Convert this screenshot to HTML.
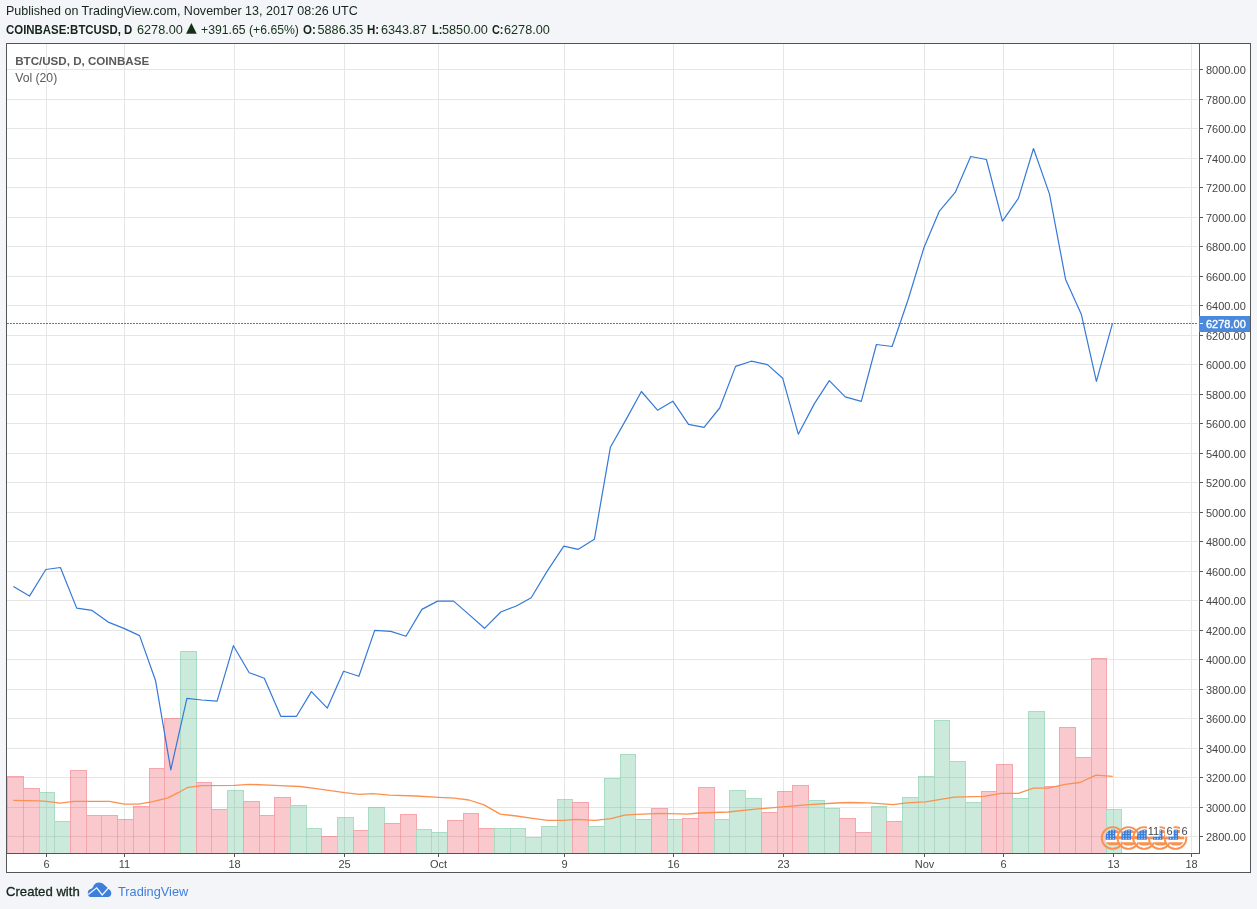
<!DOCTYPE html>
<html lang="en"><head><meta charset="utf-8"><title>BTC/USD chart - TradingView</title>
<style>
html,body{margin:0;padding:0}
body{width:1257px;height:909px;overflow:hidden;background:#f3f5f9;position:relative;font-family:"Liberation Sans",sans-serif;color:#14241a}
.chart{position:absolute;left:0;top:0;display:block}
.ax{font-family:"Liberation Sans",sans-serif;font-size:11px;fill:#454545}
.lg{font-family:"Liberation Sans",sans-serif;font-size:12px;fill:#5a5a5a}
.t{position:absolute;white-space:nowrap;font-size:12.2px;line-height:14px;transform-origin:0 50%}
.b{font-weight:bold}

.g{color:#143217}
.tri{font-family:"DejaVu Sans","Liberation Sans",sans-serif;line-height:14px}
.blue{color:#3f7fdc}
.f{-webkit-text-stroke:.3px #14241a}
</style></head><body>
<svg class="chart" width="1257" height="909" viewBox="0 0 1257 909" shape-rendering="auto">
<rect x="6.5" y="43.5" width="1244" height="829" fill="#fff" stroke="#555" stroke-width="1"/>
<path d="M46.5 44V852M124.5 44V852M234.5 44V852M344.5 44V852M438.5 44V852M564.5 44V852M673.5 44V852M783.5 44V852M924.5 44V852M1003.5 44V852M1113.5 44V852M1191.5 44V852M7 69.5H1198M7 99.5H1198M7 128.5H1198M7 158.5H1198M7 187.5H1198M7 217.5H1198M7 246.5H1198M7 276.5H1198M7 305.5H1198M7 335.5H1198M7 364.5H1198M7 394.5H1198M7 423.5H1198M7 453.5H1198M7 482.5H1198M7 512.5H1198M7 541.5H1198M7 571.5H1198M7 600.5H1198M7 630.5H1198M7 659.5H1198M7 689.5H1198M7 718.5H1198M7 748.5H1198M7 777.5H1198M7 807.5H1198M7 836.5H1198" stroke="#e6e6e6" stroke-width="1" fill="none" shape-rendering="crispEdges"/>
<path d="M40 793h14v60h-14zM55 822h15v31h-15zM181 652h15v201h-15zM228 791h15v62h-15zM291 806h15v47h-15zM307 829h14v24h-14zM338 818h15v35h-15zM369 808h15v45h-15zM417 830h14v23h-14zM432 833h15v20h-15zM495 829h15v24h-15zM511 829h14v24h-14zM526 838h15v15h-15zM542 827h15v26h-15zM558 800h14v53h-14zM589 827h15v26h-15zM605 779h15v74h-15zM621 755h14v98h-14zM636 820h15v33h-15zM668 820h14v33h-14zM715 820h14v33h-14zM730 791h15v62h-15zM746 799h15v54h-15zM809 801h15v52h-15zM825 809h14v44h-14zM872 807h14v46h-14zM903 798h15v55h-15zM919 777h15v76h-15zM935 721h14v132h-14zM950 762h15v91h-15zM966 803h15v50h-15zM1013 799h15v54h-15zM1029 712h15v141h-15zM1107 810h14v43h-14z" fill="rgba(83,185,135,0.3)" shape-rendering="crispEdges"/>
<path d="M40 792h14v1h-14zM55 821h15v1h-15zM181 651h15v1h-15zM228 790h15v1h-15zM291 805h15v1h-15zM307 828h14v1h-14zM338 817h15v1h-15zM369 807h15v1h-15zM417 829h14v1h-14zM432 832h15v1h-15zM495 828h15v1h-15zM511 828h14v1h-14zM526 837h15v1h-15zM542 826h15v1h-15zM558 799h14v1h-14zM589 826h15v1h-15zM605 778h15v1h-15zM621 754h14v1h-14zM636 819h15v1h-15zM668 819h14v1h-14zM715 819h14v1h-14zM730 790h15v1h-15zM746 798h15v1h-15zM809 800h15v1h-15zM825 808h14v1h-14zM872 806h14v1h-14zM903 797h15v1h-15zM919 776h15v1h-15zM935 720h14v1h-14zM950 761h15v1h-15zM966 802h15v1h-15zM1013 798h15v1h-15zM1029 711h15v1h-15zM1107 809h14v1h-14zM39 792h1v61h-1zM54 792h1v29h-1zM54 821h1v32h-1zM180 651h1v202h-1zM196 651h1v131h-1zM227 790h1v63h-1zM243 790h1v11h-1zM290 805h1v48h-1zM306 805h1v23h-1zM306 828h1v25h-1zM321 828h1v8h-1zM337 817h1v36h-1zM353 817h1v13h-1zM368 807h1v46h-1zM384 807h1v16h-1zM416 829h1v24h-1zM431 829h1v3h-1zM431 832h1v21h-1zM494 828h1v25h-1zM510 828h1v25h-1zM525 828h1v9h-1zM525 837h1v16h-1zM541 826h1v27h-1zM557 799h1v54h-1zM572 799h1v3h-1zM588 826h1v27h-1zM604 778h1v75h-1zM620 754h1v99h-1zM635 754h1v65h-1zM635 819h1v34h-1zM667 819h1v34h-1zM714 819h1v34h-1zM729 790h1v63h-1zM745 790h1v8h-1zM745 798h1v55h-1zM761 798h1v14h-1zM808 800h1v53h-1zM824 800h1v8h-1zM824 808h1v45h-1zM839 808h1v10h-1zM871 806h1v47h-1zM886 806h1v15h-1zM902 797h1v56h-1zM918 776h1v77h-1zM934 720h1v133h-1zM949 720h1v41h-1zM949 761h1v92h-1zM965 761h1v41h-1zM965 802h1v51h-1zM1012 798h1v55h-1zM1028 711h1v142h-1zM1044 711h1v75h-1zM1106 809h1v44h-1zM1121 809h1v44h-1z" fill="rgba(83,185,135,0.5)" shape-rendering="crispEdges"/>
<path d="M8 777h15v76h-15zM24 789h15v64h-15zM71 771h15v82h-15zM87 816h14v37h-14zM102 816h15v37h-15zM118 820h15v33h-15zM134 807h15v46h-15zM150 769h14v84h-14zM165 719h15v134h-15zM197 783h14v70h-14zM212 810h15v43h-15zM244 802h15v51h-15zM260 816h14v37h-14zM275 798h15v55h-15zM322 837h15v16h-15zM354 831h14v22h-14zM385 824h15v29h-15zM401 815h15v38h-15zM448 821h15v32h-15zM464 814h14v39h-14zM479 829h15v24h-15zM573 803h15v50h-15zM652 809h15v44h-15zM683 819h15v34h-15zM699 788h15v65h-15zM762 813h15v40h-15zM778 792h14v61h-14zM793 786h15v67h-15zM840 819h15v34h-15zM856 833h15v20h-15zM887 822h15v31h-15zM982 792h14v61h-14zM997 765h15v88h-15zM1045 787h14v66h-14zM1060 728h15v125h-15zM1076 758h15v95h-15zM1092 659h14v194h-14z" fill="rgba(235,77,92,0.3)" shape-rendering="crispEdges"/>
<path d="M8 776h15v1h-15zM24 788h15v1h-15zM71 770h15v1h-15zM87 815h14v1h-14zM102 815h15v1h-15zM118 819h15v1h-15zM134 806h15v1h-15zM150 768h14v1h-14zM165 718h15v1h-15zM197 782h14v1h-14zM212 809h15v1h-15zM244 801h15v1h-15zM260 815h14v1h-14zM275 797h15v1h-15zM322 836h15v1h-15zM354 830h14v1h-14zM385 823h15v1h-15zM401 814h15v1h-15zM448 820h15v1h-15zM464 813h14v1h-14zM479 828h15v1h-15zM573 802h15v1h-15zM652 808h15v1h-15zM683 818h15v1h-15zM699 787h15v1h-15zM762 812h15v1h-15zM778 791h14v1h-14zM793 785h15v1h-15zM840 818h15v1h-15zM856 832h15v1h-15zM887 821h15v1h-15zM982 791h14v1h-14zM997 764h15v1h-15zM1045 786h14v1h-14zM1060 727h15v1h-15zM1076 757h15v1h-15zM1092 658h14v1h-14zM7 776h1v77h-1zM23 776h1v12h-1zM23 788h1v65h-1zM39 788h1v4h-1zM70 770h1v83h-1zM86 770h1v45h-1zM86 815h1v38h-1zM101 815h1v38h-1zM117 815h1v4h-1zM117 819h1v34h-1zM133 806h1v47h-1zM149 768h1v85h-1zM164 718h1v135h-1zM196 782h1v71h-1zM211 782h1v27h-1zM211 809h1v44h-1zM243 801h1v52h-1zM259 801h1v14h-1zM259 815h1v38h-1zM274 797h1v56h-1zM290 797h1v8h-1zM321 836h1v17h-1zM353 830h1v23h-1zM384 823h1v30h-1zM400 814h1v39h-1zM416 814h1v15h-1zM447 820h1v33h-1zM463 813h1v40h-1zM478 813h1v15h-1zM478 828h1v25h-1zM572 802h1v51h-1zM588 802h1v24h-1zM651 808h1v45h-1zM667 808h1v11h-1zM682 818h1v35h-1zM698 787h1v66h-1zM714 787h1v32h-1zM761 812h1v41h-1zM777 791h1v62h-1zM792 785h1v68h-1zM808 785h1v15h-1zM839 818h1v35h-1zM855 818h1v14h-1zM855 832h1v21h-1zM886 821h1v32h-1zM981 791h1v62h-1zM996 764h1v89h-1zM1012 764h1v34h-1zM1044 786h1v67h-1zM1059 727h1v126h-1zM1075 727h1v30h-1zM1075 757h1v96h-1zM1091 658h1v195h-1zM1106 658h1v151h-1z" fill="rgba(235,77,92,0.5)" shape-rendering="crispEdges"/>
<polyline points="13.2,800.4 38.7,800.9 46.6,801.4 60.0,803.2 73.8,801.4 109.5,801.4 124.5,804.2 138.7,804.2 152.7,801.7 168.0,797.8 178.2,792.7 187.1,787.7 201.1,785.6 234.2,785.4 249.5,784.3 280.0,785.6 300.0,786.5 316.2,788.7 344.6,792.7 359.5,794.4 373.0,793.6 389.3,795.2 416.3,796.0 438.5,797.3 454.2,798.2 469.0,800.0 484.0,804.9 500.2,814.1 516.4,816.0 532.6,818.4 547.5,820.3 563.7,820.3 575.9,819.3 594.8,820.3 611.0,818.7 624.6,815.2 636.2,814.4 660.6,813.3 687.6,814.1 698.4,813.0 728.2,812.0 755.2,809.2 782.3,806.8 809.3,804.6 836.4,803.0 849.9,802.5 868.8,802.8 893.2,804.6 906.7,802.8 925.6,801.9 954.3,797.1 983.8,796.4 1001.1,793.4 1018.4,793.4 1033.2,788.2 1048.0,788.2 1065.2,784.3 1080.0,782.5 1096.0,775.1 1112.8,776.4" fill="none" stroke="#fa9150" stroke-width="1.3" stroke-linejoin="round"/>
<polyline points="13.4,586.4 29.5,596.1 45.8,569.5 60.4,567.5 76.7,608.1 92.1,610.4 108.2,622.1 123.9,628.4 139.6,635.6 155.6,680.8 170.8,769.8 186.9,698.3 201.8,700.0 217.1,701.2 233.4,645.7 249.2,672.7 264.3,678.3 280.8,716.3 296.5,716.3 311.4,691.6 327.3,708.1 343.6,671.3 358.9,676.3 374.7,630.4 390.8,631.4 406.0,636.3 421.9,609.4 437.6,601.1 453.6,601.1 469.1,614.6 484.5,628.3 500.8,612.0 516.3,606.0 531.2,597.7 547.2,571.1 563.8,546.2 578.3,549.3 594.4,539.3 610.4,447.2 626.0,419.6 641.4,391.5 657.5,410.2 672.8,401.2 688.5,424.3 704.0,427.3 719.7,408.0 735.6,366.4 751.3,361.2 767.4,364.6 782.7,378.3 798.3,434.2 814.4,403.6 829.3,380.7 845.2,396.8 861.3,401.3 876.4,344.5 892.1,346.5 908.0,300.0 924.0,247.5 939.4,211.1 955.2,192.4 970.7,156.5 986.4,159.5 1002.4,221.2 1018.4,198.4 1033.5,148.5 1049.5,194.1 1065.6,279.4 1081.3,314.2 1096.4,381.3 1112.4,323.6" fill="none" stroke="#3579d8" stroke-width="1.2" stroke-linejoin="round"/>
<path d="M7 323.5H1197" stroke="#3b7dd8" stroke-width="1" stroke-dasharray="2 1" fill="none" shape-rendering="crispEdges"/>
<path d="M1199.5 44V854M6 853.5H1200" stroke="#555" stroke-width="1" fill="none" shape-rendering="crispEdges"/>
<path d="M1200 69.5H1203M1200 99.5H1203M1200 128.5H1203M1200 158.5H1203M1200 187.5H1203M1200 217.5H1203M1200 246.5H1203M1200 276.5H1203M1200 305.5H1203M1200 335.5H1203M1200 364.5H1203M1200 394.5H1203M1200 423.5H1203M1200 453.5H1203M1200 482.5H1203M1200 512.5H1203M1200 541.5H1203M1200 571.5H1203M1200 600.5H1203M1200 630.5H1203M1200 659.5H1203M1200 689.5H1203M1200 718.5H1203M1200 748.5H1203M1200 777.5H1203M1200 807.5H1203M1200 836.5H1203M46.5 854V857M124.5 854V857M234.5 854V857M344.5 854V857M438.5 854V857M564.5 854V857M673.5 854V857M783.5 854V857M924.5 854V857M1003.5 854V857M1113.5 854V857M1191.5 854V857" stroke="#555" stroke-width="1" fill="none" shape-rendering="crispEdges"/>
<defs><clipPath id="fc"><circle cx=".6" cy="0" r="8.4"/></clipPath><g id="flag"><g clip-path="url(#fc)"><rect x="-7" y="-10" width="17" height="20" fill="#fff"/><path d="M-7 -6.600H10M-7 -.300H10M-7 5.800H10" stroke="#fa9150" stroke-width="3.300"/><rect x="-7" y="-9" width="9.600" height="10.700" fill="#3b7dd8"/><path d="M-5 -8V1.700M-2.200 -8V1.700M.600 -8V1.700" stroke="#dbe7f8" stroke-width=".9" stroke-dasharray="1.4 1.200"/></g><circle cx="0" cy="0" r="10.900" fill="none" stroke="#fa9150" stroke-width="1.900"/></g></defs>
<use href="#flag" x="1112.7" y="838"/>
<use href="#flag" x="1128.4" y="838"/>
<use href="#flag" x="1144.1" y="838"/>
<use href="#flag" x="1159.8" y="838"/>
<use href="#flag" x="1175.5" y="838"/>
<rect x="1147.0" y="825.5" width="12.5" height="11" fill="#fff"/>
<text x="1153.5" y="835" class="ax" text-anchor="middle">11</text>
<rect x="1165.0" y="825.5" width="8.5" height="11" fill="#fff"/>
<text x="1169.5" y="835" class="ax" text-anchor="middle">6</text>
<rect x="1180.0" y="825.5" width="8.5" height="11" fill="#fff"/>
<text x="1184.5" y="835" class="ax" text-anchor="middle">6</text>
<text x="1206" y="73.5" class="ax">8000.00</text>
<text x="1206" y="103.5" class="ax">7800.00</text>
<text x="1206" y="132.5" class="ax">7600.00</text>
<text x="1206" y="162.5" class="ax">7400.00</text>
<text x="1206" y="191.5" class="ax">7200.00</text>
<text x="1206" y="221.5" class="ax">7000.00</text>
<text x="1206" y="250.5" class="ax">6800.00</text>
<text x="1206" y="280.5" class="ax">6600.00</text>
<text x="1206" y="309.5" class="ax">6400.00</text>
<text x="1206" y="339.5" class="ax">6200.00</text>
<text x="1206" y="368.5" class="ax">6000.00</text>
<text x="1206" y="398.5" class="ax">5800.00</text>
<text x="1206" y="427.5" class="ax">5600.00</text>
<text x="1206" y="457.5" class="ax">5400.00</text>
<text x="1206" y="486.5" class="ax">5200.00</text>
<text x="1206" y="516.5" class="ax">5000.00</text>
<text x="1206" y="545.5" class="ax">4800.00</text>
<text x="1206" y="575.5" class="ax">4600.00</text>
<text x="1206" y="604.5" class="ax">4400.00</text>
<text x="1206" y="634.5" class="ax">4200.00</text>
<text x="1206" y="663.5" class="ax">4000.00</text>
<text x="1206" y="693.5" class="ax">3800.00</text>
<text x="1206" y="722.5" class="ax">3600.00</text>
<text x="1206" y="752.5" class="ax">3400.00</text>
<text x="1206" y="781.5" class="ax">3200.00</text>
<text x="1206" y="811.5" class="ax">3000.00</text>
<text x="1206" y="840.5" class="ax">2800.00</text>
<rect x="1199" y="316" width="51" height="16" fill="#4a89dc"/>
<path d="M1200 323.5H1203" stroke="#fff" stroke-width="1" shape-rendering="crispEdges"/>
<text x="1206" y="328" class="ax" fill="#fff" style="fill:#fff;stroke:#fff;stroke-width:.35px">6278.00</text>
<text x="46.5" y="868" class="ax" text-anchor="middle">6</text>
<text x="124.5" y="868" class="ax" text-anchor="middle">11</text>
<text x="234.5" y="868" class="ax" text-anchor="middle">18</text>
<text x="344.5" y="868" class="ax" text-anchor="middle">25</text>
<text x="438.5" y="868" class="ax" text-anchor="middle">Oct</text>
<text x="564.5" y="868" class="ax" text-anchor="middle">9</text>
<text x="673.5" y="868" class="ax" text-anchor="middle">16</text>
<text x="783.5" y="868" class="ax" text-anchor="middle">23</text>
<text x="924.5" y="868" class="ax" text-anchor="middle">Nov</text>
<text x="1003.5" y="868" class="ax" text-anchor="middle">6</text>
<text x="1113.5" y="868" class="ax" text-anchor="middle">13</text>
<text x="1191.5" y="868" class="ax" text-anchor="middle">18</text>
<path d="M1250.5 43V873" stroke="#555" stroke-width="1" shape-rendering="crispEdges"/>
<text x="15.2" y="64.7" class="lg" style="font-weight:bold;font-size:11.6px">BTC/USD, D, COINBASE</text>
<text x="15.2" y="82" class="lg" style="font-size:12.2px">Vol (20)</text>
<path d="M90.700 897.100C88.900 897.100 87.800 895 87.800 892.900C87.800 890.600 89.300 889.200 91.300 888.800C91.900 888.700 92.400 888.200 92.700 887.500C93.800 884.600 96 882.600 98.900 882.600C101 882.600 102.800 883.400 104.200 884.800L107.600 887.700C107.900 888.500 108.300 889 108.900 889.300C110.300 890 111.300 891.500 111.300 893.200C111.300 895.500 109.800 897.100 107.800 897.100Z" fill="#3f7fdc"/><path d="M88.200 894.400L96.700 887.800L102.200 895L109.600 886.800" fill="none" stroke="#f3f5f9" stroke-width="1.3"/>
</svg>
<div class="t" id="l1" style="left:5.60px;top:4.2px;font-size:12.8px;transform:scaleX(0.9780)">Published on TradingView.com, November 13, 2017 08:26 UTC</div>
<div class="t b" id="l2a" style="left:6.20px;top:22.9px;font-size:12.8px;transform:scaleX(0.8930)">COINBASE:BTCUSD, D</div>
<div class="t g" id="l2b" style="left:137.00px;top:22.9px;font-size:12.7px;transform:scaleX(1.0000)">6278.00</div>
<div class="t g tri" id="l2c" style="left:186.00px;top:20.3px;font-size:14.0px;transform:scaleX(1.0000)">&#9650;</div>
<div class="t g" id="l2d" style="left:200.60px;top:22.9px;font-size:12.8px;transform:scaleX(0.9560)">+391.65 (+6.65%)</div>
<div class="t b" id="l2e" style="left:303.30px;top:22.9px;font-size:12.8px;transform:scaleX(0.9000)">O:</div>
<div class="t g" id="l2f" style="left:317.50px;top:22.9px;font-size:12.7px;transform:scaleX(1.0000)">5886.35</div>
<div class="t b" id="l2g" style="left:367.20px;top:22.9px;font-size:12.8px;transform:scaleX(0.9000)">H:</div>
<div class="t g" id="l2h" style="left:380.90px;top:22.9px;font-size:12.7px;transform:scaleX(1.0000)">6343.87</div>
<div class="t b" id="l2i" style="left:431.60px;top:22.9px;font-size:12.8px;transform:scaleX(0.8500)">L:</div>
<div class="t g" id="l2j" style="left:442.00px;top:22.9px;font-size:12.7px;transform:scaleX(1.0000)">5850.00</div>
<div class="t b" id="l2k" style="left:492.40px;top:22.9px;font-size:12.8px;transform:scaleX(0.8500)">C:</div>
<div class="t g" id="l2l" style="left:504.00px;top:22.9px;font-size:12.7px;transform:scaleX(1.0000)">6278.00</div>
<div class="t f" id="f1" style="left:6.20px;top:885.0px;font-size:13.2px;transform:scaleX(0.9960)">Created with</div>
<div class="t blue" id="f2" style="left:118.10px;top:885.0px;font-size:13.2px;transform:scaleX(0.9680)">TradingView</div>
</body></html>
